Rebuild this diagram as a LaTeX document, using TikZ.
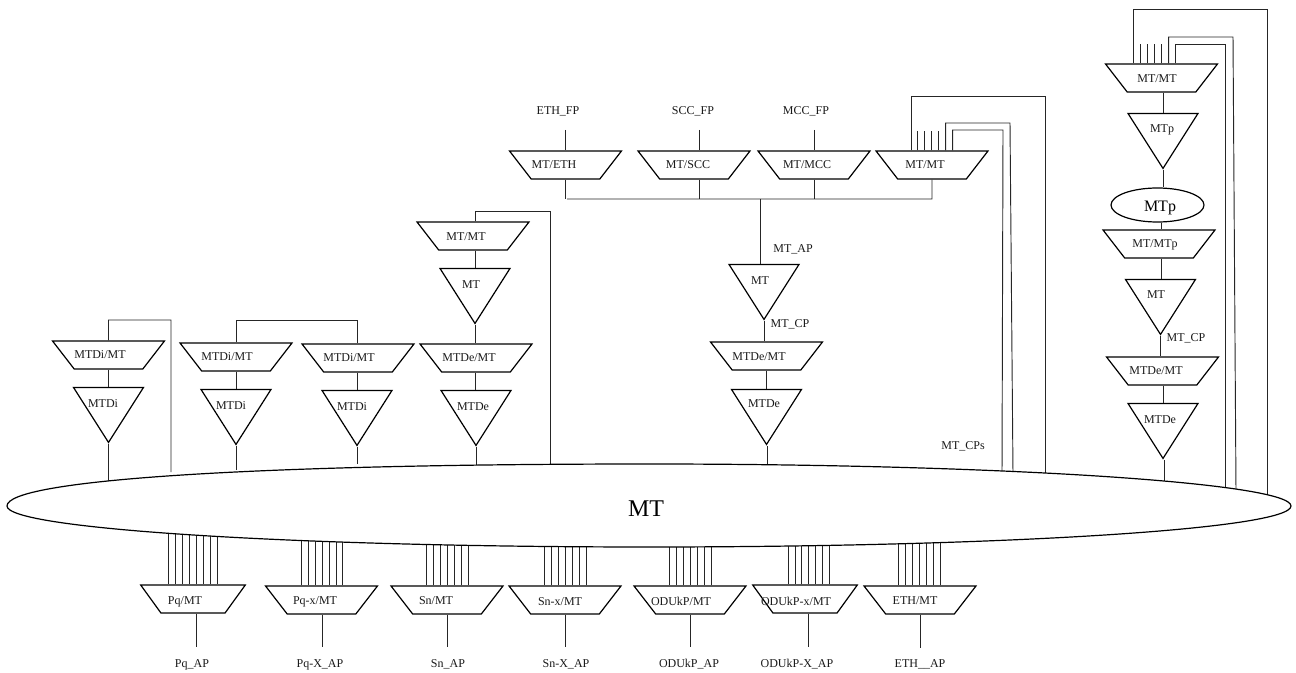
\documentclass[tikz,border=0pt]{standalone}
\usepackage{fontspec}
\setmainfont{Liberation Serif}
\usetikzlibrary{shapes.geometric}
\tikzset{
  wire/.style={line width=0.7pt,black!85},
  shapeline/.style={draw=black,line width=0.9pt},
  trapbox/.style={shapeline,trapezium,trapezium stretches=true,trapezium left angle=66.8,trapezium right angle=66.8,shape border rotate=180,inner sep=0pt,minimum height=21pt,minimum width=84pt},
  tribox/.style={shapeline,isosceles triangle,isosceles triangle stretches=true,shape border rotate=-90,inner sep=0pt,minimum width=52.5pt,minimum height=41.25pt},
  lab/.style={font=\fontsize{9}{10}\selectfont,inner sep=0pt,text=black!90,text height=6pt,text depth=0pt},
  midlab/.style={font=\fontsize{12}{13}\selectfont,inner sep=0pt,text height=8pt,text depth=0pt},
  biglab/.style={font=\fontsize{18}{20}\selectfont,inner sep=0pt,text height=12pt,text depth=0pt}
}
% name, cx, top, lx, ly, text
\newcommand\trapn[6]{\node[trapbox] (#1) at (#2,#3+14) {\phantom{M}}; \node[lab] (#1l) at (#4,#5) {#6};}
% narrow variant
\newcommand\trapw[6]{\node[trapbox,minimum width=78.5pt] (#1) at (#2,#3+14) {\phantom{M}}; \node[lab] (#1l) at (#4,#5) {#6};}
% name, cx, apexy, lx, ly, text
\newcommand\trin[6]{\node[tribox,anchor=apex] (#1) at (#2,#3) {\phantom{M}}; \node[lab] (#1l) at (#4,#5) {#6};}
% vertical wire at x between two anchors
\newcommand\vw[3]{\draw[wire] (#1,0 |- #2) -- (#1,0 |- #3);}
% vertical wire at x from an anchor to a y
\newcommand\vy[3]{\draw[wire] (#1,0 |- #2) -- (#1,#3);}
\begin{document}
\begin{tikzpicture}[x=0.75pt,y=-0.75pt]
\useasboundingbox (0,0) rectangle (1296,673);
% left chain 1
\trapn{a1}{108.5}{341}{100}{355}{MTDi/MT}
\trin{a2}{108.5}{444}{103}{404}{MTDi}
\vw{108.5}{a1.south}{a2.north}
\vy{108.5}{a2.apex}{482}
\draw[wire] (a1.north) -- (108.5,320) -| (171,472);
% left chain 2
\trapn{b1}{236}{343}{227}{357}{MTDi/MT}
\trin{b2}{236}{446}{231}{406}{MTDi}
\vw{236}{b1.south}{b2.north}
\vy{236}{b2.apex}{470}
% left chain 3
\trapn{c1}{358}{344}{349}{358}{MTDi/MT}
\trin{c2}{357}{447}{352}{407}{MTDi}
\vw{357}{c1.south}{c2.north}
\vy{357}{c2.apex}{464}
\draw[wire] (236,0 |- b1.north) -- (236,320) -- (357,320) -- (357,0 |- c1.north);
% MTDe chain
\trapn{d1}{473}{222}{466}{237}{MT/MT}
\trin{d2}{475}{325}{471}{285}{MT}
\trapn{d3}{476}{344}{469}{358}{MTDe/MT}
\trin{d4}{476}{447}{473}{407}{MTDe}
\vw{475}{d1.south}{d2.north}
\vw{475}{d2.apex}{d3.north}
\vw{475.7}{d3.south}{d4.north}
\vy{476}{d4.apex}{467}
\draw[wire] (475,0 |- d1.north) -- (475,211) -| (550,465);
% top row
\trapn{e1}{565.5}{151}{554}{165}{MT/ETH}
\trapn{e2}{694}{151}{688}{165}{MT/SCC}
\trapn{e3}{814}{151}{807}{165}{MT/MCC}
\trapn{e4}{932}{151}{925}{165}{MT/MT}
\node[lab] (f1) at (558,111) {ETH\_FP};
\node[lab] (f2) at (693,111) {SCC\_FP};
\node[lab] (f3) at (806,111) {MCC\_FP};
\coordinate (f1e) at (565,130);
\coordinate (f2e) at (699,130);
\coordinate (f3e) at (814,130);
\coordinate (busl) at (567,199);
\coordinate (busr) at (932,199);
\draw[wire] (f1e) -- (565,0 |- e1.north);
\draw[wire] (f2e) -- (699,0 |- e2.north);
\draw[wire] (f3e) -- (814,0 |- e3.north);
\draw[wire] (565,0 |- e1.south) -- (565,199);
\draw[wire] (699,0 |- e2.south) -- (699,199);
\draw[wire] (814,0 |- e3.south) -- (814,199);
\draw[wire] (e4.south) -- (busr) -- (busl);
% centre chain
\trin{g1}{764}{321}{760}{281}{MT}
\trapn{g2}{766.5}{342}{759}{357}{MTDe/MT}
\trin{g3}{766.5}{446}{764}{404}{MTDe}
\draw[wire] (760,199) -- (760,0 |- g1.north);
\vw{764}{g1.apex}{g2.north}
\vw{766}{g2.south}{g3.north}
\vy{767}{g3.apex}{466}
\node[lab] (g1a) at (793,249) {MT\_AP};
\node[lab] (g1c) at (790,324) {MT\_CP};
% e4 wires
\foreach \x in {917.3,924.3,931.3,938.3} \draw[wire] (\x,0 |- e4.north) -- (\x,131);
\draw[wire] (911,0 |- e4.north) -- (911,96) -| (1045,474);
\draw[wire] (945.7,0 |- e4.north) -- (945.7,123) -- (1010,123) -- (1013,474);
\draw[wire] (952.7,0 |- e4.north) -- (952.7,130) -- (1003,130) -- (1002,474);
\node[lab] (cps) at (963,446) {MT\_CPs};
% right chain
\trapn{h1}{1161.5}{64}{1157}{79}{MT/MT}
\trin{h2}{1163}{170}{1162}{129}{MTp}
\node[shapeline,ellipse,minimum width=69.75pt,minimum height=25.5pt,inner sep=0pt] (h3) at (1157.5,205) {};
\node[midlab] (h3l) at (1160,206) {MTp};
\trapn{h4}{1159}{230}{1155}{244}{MT/MTp}
\trin{h5}{1160.5}{336}{1156}{295}{MT}
\trapn{h6}{1162.5}{357}{1156}{371}{MTDe/MT}
\trin{h7}{1163}{460}{1160}{420}{MTDe}
\vw{1163}{h1.south}{h2.north}
\vw{1163}{h2.apex}{h3.north}
\vw{1161}{h3.south}{h4.north}
\vw{1161.3}{h4.south}{h5.north}
\vw{1160.5}{h5.apex}{h6.north}
\vw{1163}{h6.south}{h7.north}
\vy{1164}{h7.apex}{482}
\node[lab] (h5c) at (1186,338) {MT\_CP};
\foreach \x in {1140,1147,1154,1161} \draw[wire] (\x,0 |- h1.north) -- (\x,44);
\draw[wire] (1133,0 |- h1.north) -- (1133,9) -| (1267,497);
\draw[wire] (1168.7,0 |- h1.north) -- (1168.7,37) -- (1233,37) -- (1236,492);
\draw[wire] (1175,0 |- h1.north) -- (1175,44) -| (1225.5,490);
% bottom row
\trapw{p1}{193}{585}{185}{600}{Pq/MT}
\trapn{p2}{321.5}{586}{315}{600}{Pq-x/MT}
\trapn{p3}{447}{586}{436}{600}{Sn/MT}
\trapn{p4}{565}{586}{560}{601}{Sn-x/MT}
\trapn{p5}{690}{586}{681}{601}{ODUkP/MT}
\trapw{p6}{805}{585}{796}{601}{ODUkP-x/MT}
\trapn{p7}{920}{586}{915}{600}{ETH/MT}
\foreach \x in {168.5,175.5,182.5,189.5,196.5,203.5,210.5,217.5} \draw[wire] (\x,0 |- p1.north) -- (\x,525);
\foreach \x in {301,308,315,322,329,336,342.5} \draw[wire] (\x,0 |- p2.north) -- (\x,525);
\foreach \x in {426,433,440,447,454,461,468} \draw[wire] (\x,0 |- p3.north) -- (\x,525);
\foreach \x in {544.3,551.3,558.3,565,572,579,586} \draw[wire] (\x,0 |- p4.north) -- (\x,525);
\foreach \x in {669.7,676.7,683.7,690.3,697.3,704.3,711.3} \draw[wire] (\x,0 |- p5.north) -- (\x,525);
\foreach \x in {788,795,801,808,815,822,829} \draw[wire] (\x,0 |- p6.north) -- (\x,525);
\foreach \x in {898.7,905.7,912.7,919.7,926.7,933.7,940.7} \draw[wire] (\x,0 |- p7.north) -- (\x,525);
\node[lab] (q1) at (192,663) {Pq\_AP};
\node[lab] (q2) at (320,663) {Pq-X\_AP};
\node[lab] (q3) at (448,663) {Sn\_AP};
\node[lab] (q4) at (566,663) {Sn-X\_AP};
\node[lab] (q5) at (689,663) {ODUkP\_AP};
\node[lab] (q6) at (797,663) {ODUkP-X\_AP};
\node[lab] (q7) at (920,663) {ETH\_\_AP};
\vy{196}{p1.south}{647}
\vy{322}{p2.south}{647}
\vy{447}{p3.south}{647}
\vy{565}{p4.south}{647}
\vy{690}{p5.south}{647}
\vy{808}{p6.south}{647}
\vy{920}{p7.south}{648}
% big ellipse
\draw[shapeline,fill=white] (7,506) .. controls (7,480) and (250,464) .. (649,464)
  .. controls (1003,464) and (1291,483) .. (1291,506)
  .. controls (1291,529) and (1003,547) .. (649,547)
  .. controls (295,547) and (7,529) .. (7,506) -- cycle;
\node[biglab] (mt) at (646,508) {MT};
\end{tikzpicture}
\end{document}
